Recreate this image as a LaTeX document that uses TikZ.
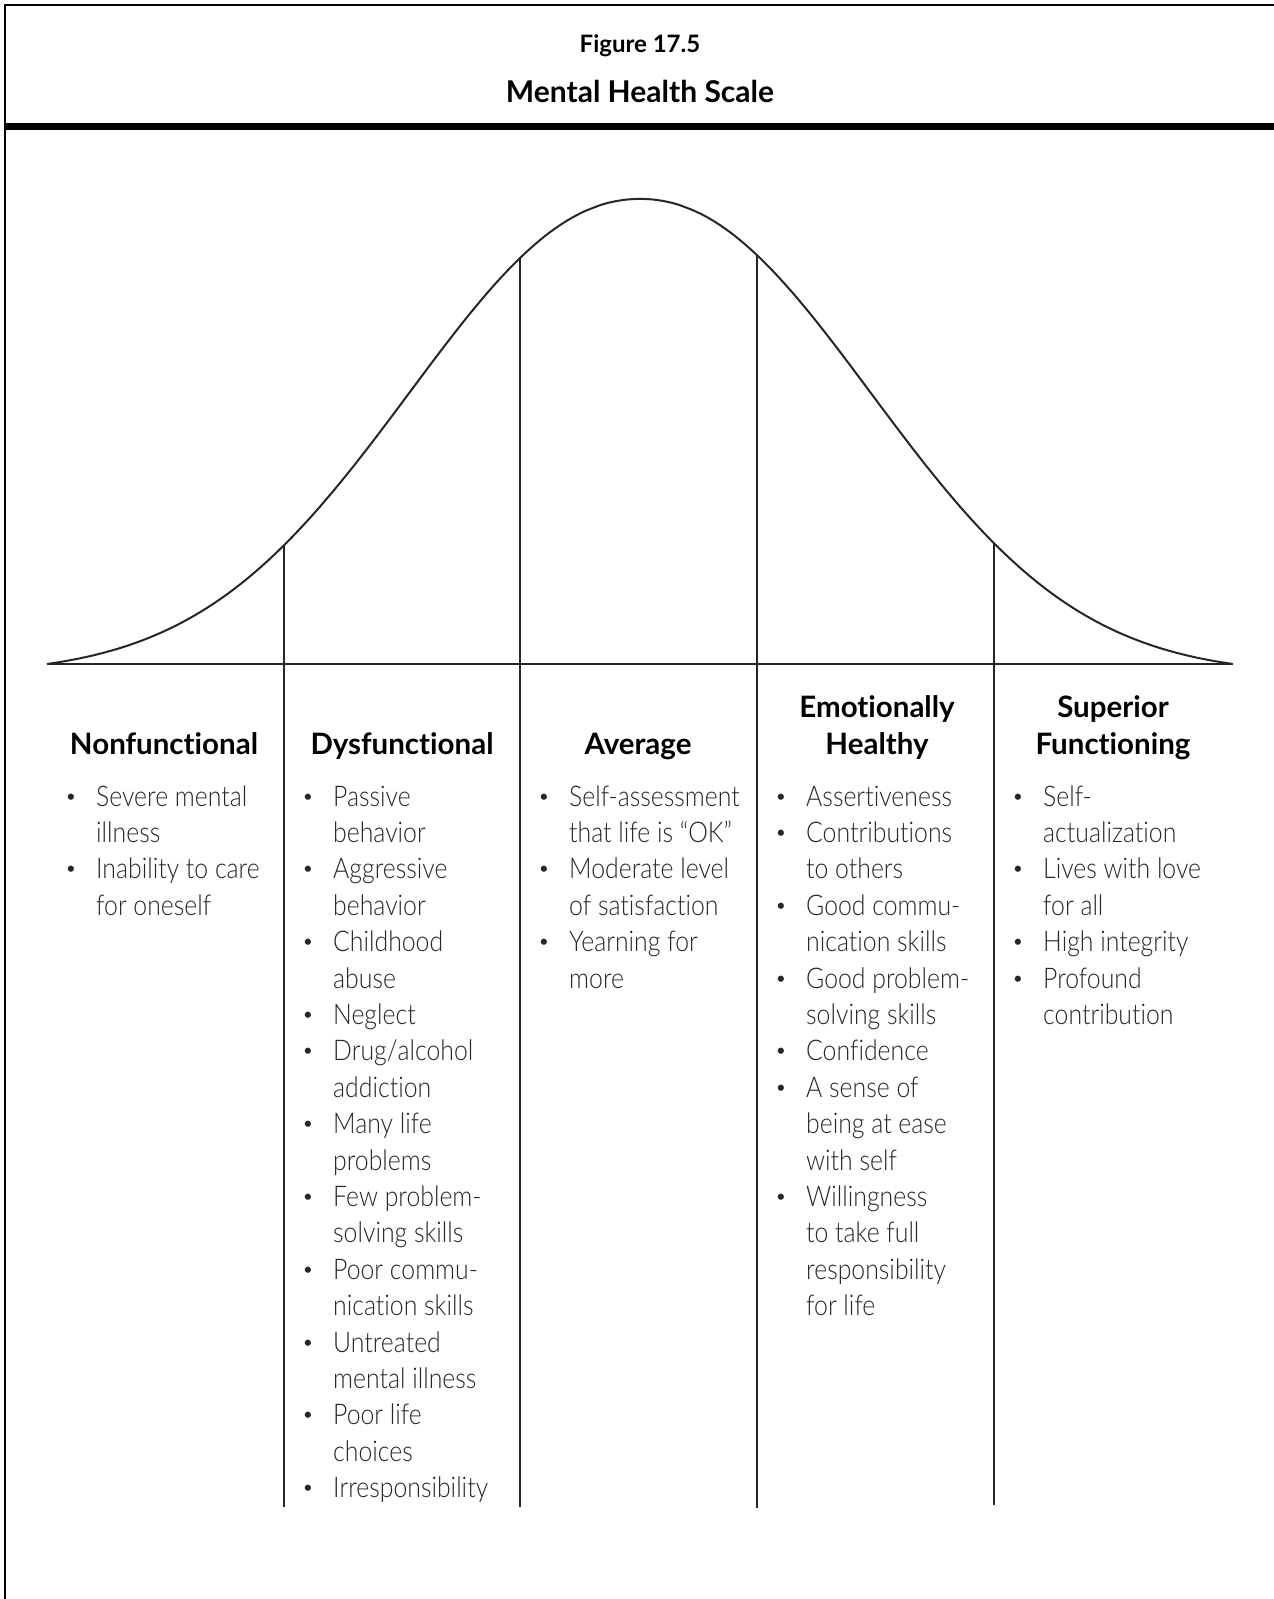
\documentclass[tikz,border=0pt]{standalone}
\usepackage{fontspec}
\setmainfont{Lato Light}[BoldFont=Lato Bold,Ligatures=NoCommon]
\newfontfamily\bodyfont{Lato Light}[FakeStretch=0.87,Ligatures=NoCommon]

% one column of bullet points: #1 name prefix, #2 left edge, #3 list of b/n + line
\newcommand\colitems[3]{%
  \foreach \k/\t [count=\i from 0] in {#3}{%
    \node[bodyline] (#1-\i) at ({#2+49},{806+36.4*\i}) {\t};
    \if b\k \node[bulletmark] (#1-b\i) at ({#2+24},{803+36.4*\i}) {\textbullet};\fi
  }}

\begin{document}
\begin{tikzpicture}[x=1pt,y=-1pt,
  declare function={bell(\u)=664-465*(exp(-pow(abs(\u),2.1))-0.02235)/0.97765;},
  framestroke/.style={line width=2pt,black},
  curvestroke/.style={line width=2pt,black!85},
  divider/.style={line width=1.4pt,black!85},
  titlesmall/.style={font=\bfseries\fontsize{24}{28}\selectfont,anchor=base,inner sep=0pt},
  titlebig/.style={font=\bfseries\fontsize{30}{34}\selectfont,anchor=base,inner sep=0pt},
  heading/.style={font=\bfseries\fontsize{29.5}{37}\selectfont,anchor=base,inner sep=0pt},
  bodyline/.style={font=\bodyfont\fontsize{28.5}{36}\selectfont,anchor=base west,inner sep=0pt,text=black!85},
  bulletmark/.style={font=\fontsize{21}{25}\selectfont,anchor=base,inner sep=0pt,text=black!85}]

\useasboundingbox (0,0) rectangle (1274,1599);
\fill[white] (0,0) rectangle (1274,1599);

% frame and title band
\draw[framestroke] (5,1600) -- (5,5) -- (1275,5);
\draw[line width=7pt] (5,126) -- (1275,126);
\node[titlesmall] (fig) at (640,52) {Figure 17.5};
\node[titlebig] (title) at (640,102) {Mental Health Scale};

% bell curve and its base line
\draw[curvestroke] plot[domain=-1.8885:1.8885,samples=200,smooth] ({640+314*\x},{bell(\x)});
\draw[curvestroke] (47,664) -- (1233,664);

% column dividers, from the curve down
\coordinate (t1) at (284,{bell(-356/314)});
\coordinate (t2) at (520,{bell(-120/314)});
\coordinate (t3) at (757,{bell(117/314)});
\coordinate (t4) at (994,{bell(354/314)});
\coordinate (b1) at (284,1507);
\coordinate (b2) at (520,1507);
\coordinate (b3) at (757,1508);
\coordinate (b4) at (994,1505);
\foreach \n in {1,...,4} \draw[divider] (t\n) -- (b\n);

% column headings
\node[heading] (h1) at (164,754) {Nonfunctional};
\node[heading] (h2) at (402,754) {Dysfunctional};
\node[heading] (h3) at (638,754) {Average};
\node[heading] (h4a) at (877,717) {Emotionally};
\node[heading] (h4b) at (877,754) {Healthy};
\node[heading] (h5a) at (1113,717) {Superior};
\node[heading] (h5b) at (1113,754) {Functioning};

% column contents
\colitems{c1}{47}{b/Severe mental, n/illness, b/Inability to care, n/for oneself}
\colitems{c2}{284}{b/Passive, n/behavior, b/Aggressive, n/behavior, b/Childhood, n/abuse,
  b/Neglect, b/Drug\slash alcohol, n/addiction, b/Many life, n/problems, b/Few problem-,
  n/solving skills, b/Poor commu-, n/nication skills, b/Untreated, n/mental illness,
  b/Poor life, n/choices, b/Irresponsibility}
\colitems{c3}{520}{b/Self-assessment, n/that life is “OK”, b/Moderate level,
  n/of satisfaction, b/Yearning for, n/more}
\colitems{c4}{757}{b/Assertiveness, b/Contributions, n/to others, b/Good commu-,
  n/nication skills, b/Good problem-, n/solving skills, b/Confidence, b/A sense of,
  n/being at ease, n/with self, b/Willingness, n/to take full, n/responsibility, n/for life}
\colitems{c5}{994}{b/Self-, n/actualization, b/Lives with love, n/for all,
  b/High integrity, b/Profound, n/contribution}
\end{tikzpicture}
\end{document}
